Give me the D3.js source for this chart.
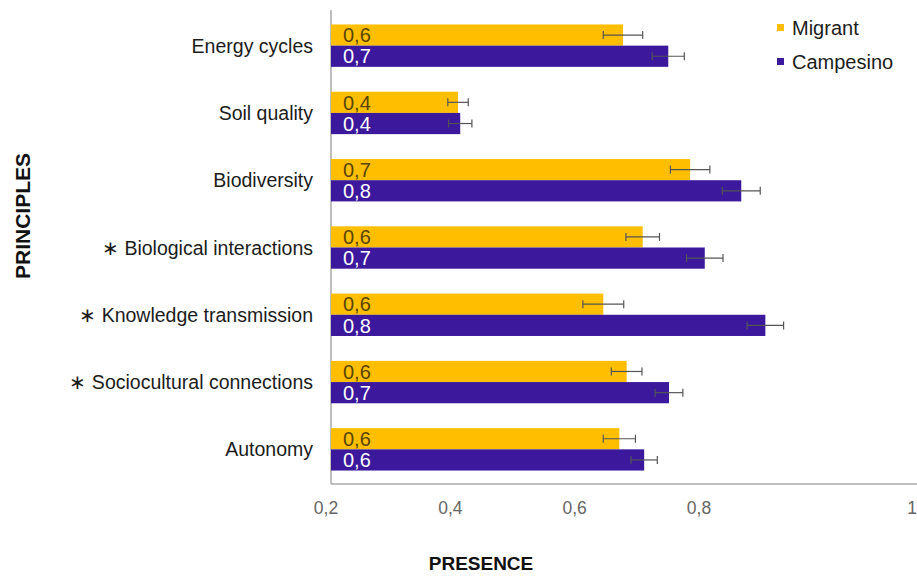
<!DOCTYPE html>
<html>
<head>
<meta charset="utf-8">
<script src="https://cdn.jsdelivr.net/npm/d3@7"></script>
<style>
  body { margin: 0; background: #fff; }
  svg { font-family: "Liberation Sans", Arial, sans-serif; display: block; }
</style>
</head>
<body>
<script>
"use strict";
const principles = ["Energy cycles", "Soil quality", "Biodiversity", "\u2217 Biological interactions", "\u2217 Knowledge transmission", "\u2217 Sociocultural connections", "Autonomy"];
const groups = ["Migrant", "Campesino"];
const migrant = [0.600, 0.374, 0.692, 0.627, 0.573, 0.605, 0.595];
const migrantErr = [0.027, 0.014, 0.027, 0.023, 0.028, 0.021, 0.022];
const campesino = [0.662, 0.377, 0.762, 0.712, 0.795, 0.663, 0.629];
const campesinoErr = [0.022, 0.016, 0.026, 0.025, 0.025, 0.019, 0.018];
const tickValues = [0.2, 0.4, 0.6, 0.8];
const colors = {"Migrant": "#ffbe00", "Campesino": "#3b189c"};
const textColors = {"Migrant": "#5a4500", "Campesino": "#ffffff"};

const size = {"width": 917, "height": 577};
const svg = d3.select("body").append("svg").attr("width", size.width).attr("height", size.height);

const x = d3.scaleLinear().domain([0.2, 1]).range([331, 915]);
// the printed tick labels sit on their own, narrower spacing
const tickX = d3.scaleLinear().domain([0.2, 0.8]).range([326, 699]);
const y = d3.scaleBand().domain(principles).range([11, 484]).paddingInner(0.37).paddingOuter(0.2);
const sub = d3.scaleBand().domain(groups).range([0, y.bandwidth()]);

const rows = principles.map((p, i) => ({
	name: p,
	values: [
		{group: "Migrant", v: migrant[i], e: migrantErr[i]},
		{group: "Campesino", v: campesino[i], e: campesinoErr[i]}
	]
}));

// axes lines
svg.append("line").attr("x1", x(0.2)).attr("x2", x(0.2)).attr("y1", 10).attr("y2", 484)
	.attr("stroke", "#a8a8a8").attr("stroke-width", 1.5);
svg.append("line").attr("x1", x(0.2)).attr("x2", size.width).attr("y1", 484).attr("y2", 484)
	.attr("stroke", "#a8a8a8").attr("stroke-width", 1.5);

const g = svg.selectAll("g.row").data(rows).enter().append("g")
	.attr("class", "row")
	.attr("transform", d => "translate(0," + y(d.name) + ")");

const bar = g.selectAll("g.bar").data(d => d.values).enter().append("g").attr("class", "bar");
bar.append("rect")
	.attr("x", x(0.2))
	.attr("y", d => sub(d.group))
	.attr("width", d => x(d.v) - x(0.2))
	.attr("height", sub.bandwidth())
	.attr("fill", d => colors[d.group]);
bar.append("text")
	.attr("x", x(0.2) + 12)
	.attr("y", d => sub(d.group) + sub.bandwidth() / 2)
	.attr("dy", "0.36em")
	.attr("font-size", 20)
	.attr("fill", d => textColors[d.group])
	.text(d => d3.format(".1f")(d.v).replace(".", ","));

// error bars
const eb = bar.append("g").attr("stroke", "#555").attr("stroke-width", 1.2);
eb.append("line")
	.attr("x1", d => x(d.v - d.e)).attr("x2", d => x(d.v + d.e))
	.attr("y1", d => sub(d.group) + sub.bandwidth() / 2)
	.attr("y2", d => sub(d.group) + sub.bandwidth() / 2);
eb.selectAll("line.cap").data(d => [d.v - d.e, d.v + d.e].map(v => ({v: v, d: d}))).enter().append("line")
	.attr("class", "cap")
	.attr("x1", c => x(c.v)).attr("x2", c => x(c.v))
	.attr("y1", c => sub(c.d.group) + sub.bandwidth() / 2 - 4)
	.attr("y2", c => sub(c.d.group) + sub.bandwidth() / 2 + 4);

// category labels
g.append("text")
	.attr("x", 313)
	.attr("y", y.bandwidth() / 2)
	.attr("dy", "0.36em")
	.attr("text-anchor", "end")
	.attr("font-size", 19.5)
	.attr("fill", "#1c1c1c")
	.text(d => d.name);

// tick labels
svg.selectAll("text.tick").data(tickValues).enter().append("text")
	.attr("class", "tick")
	.attr("x", d => tickX(d))
	.attr("y", 508)
	.attr("dy", "0.36em")
	.attr("text-anchor", "middle")
	.attr("font-size", 17.5)
	.attr("fill", "#666")
	.text(d => d3.format(".1f")(d).replace(".", ","));
svg.append("text")
	.attr("x", size.width)
	.attr("y", 508)
	.attr("dy", "0.36em")
	.attr("text-anchor", "end")
	.attr("font-size", 17.5)
	.attr("fill", "#666")
	.text("1");

// axis titles
svg.append("text")
	.attr("x", 481).attr("y", 563).attr("dy", "0.36em")
	.attr("text-anchor", "middle")
	.attr("font-size", 19).attr("font-weight", "bold").attr("fill", "#111")
	.text("PRESENCE");
svg.append("text")
	.attr("transform", "translate(22,216) rotate(-90)")
	.attr("dy", "0.36em")
	.attr("text-anchor", "middle")
	.attr("font-size", 21).attr("font-weight", "bold").attr("fill", "#111")
	.text("PRINCIPLES");

// legend
const legend = svg.selectAll("g.legend").data(groups).enter().append("g")
	.attr("class", "legend")
	.attr("transform", (d, i) => "translate(777," + (28 + i * 34) + ")");
legend.append("rect").attr("x", 0).attr("y", -4).attr("width", 7).attr("height", 7)
	.attr("fill", d => colors[d]);
legend.append("text").attr("x", 15).attr("dy", "0.36em")
	.attr("font-size", 20).attr("fill", "#1c1c1c")
	.text(d => d);
</script>
</body>
</html>
